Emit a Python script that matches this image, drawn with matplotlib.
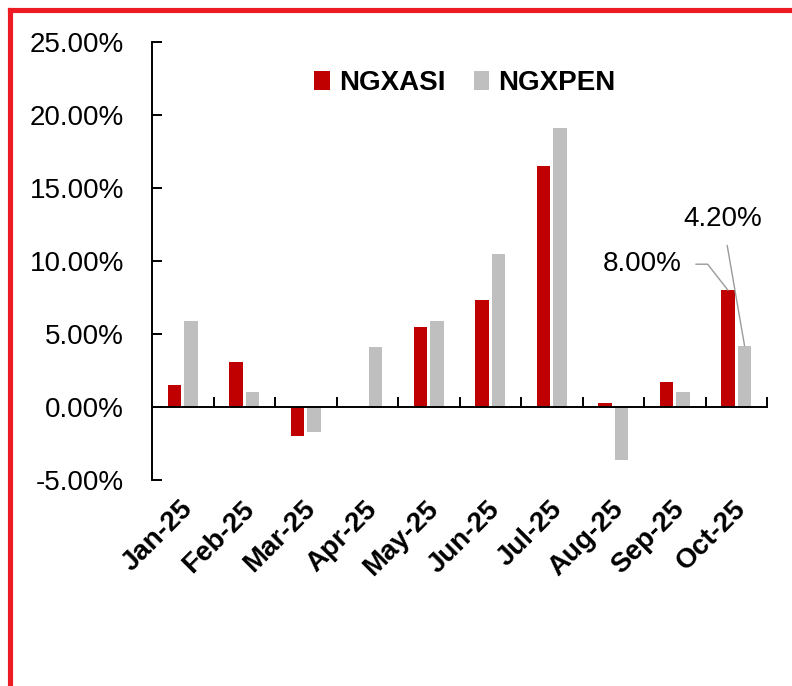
import matplotlib
matplotlib.use("Agg")
import matplotlib.pyplot as plt
from matplotlib.lines import Line2D
from matplotlib.ticker import FuncFormatter, FixedLocator
import numpy as np

months = ["Jan-25", "Feb-25", "Mar-25", "Apr-25", "May-25", "Jun-25",
          "Jul-25", "Aug-25", "Sep-25", "Oct-25"]
ngxasi = [1.5, 3.1, -2.0, 0.0, 5.5, 7.3, 16.5, 0.25, 1.7, 8.0]
ngxpen = [5.9, 1.0, -1.7, 4.1, 5.9, 10.5, 19.1, -3.6, 1.0, 4.2]
series_names = ["NGXASI", "NGXPEN"]
yticks = [-5, 0, 5, 10, 15, 20, 25]

RED = "#C00000"
GREY = "#BFBFBF"
FONT = "Liberation Sans"

fig = plt.figure(figsize=(7.92, 6.86), dpi=100)
ax = fig.add_axes([152/792, 1-480/686, (767-152)/792, (480-42)/686])

x = np.arange(len(months))
w = 0.22
off = 0.135
b1 = ax.bar(x - off, ngxasi, width=w, color=RED, label=series_names[0], zorder=2)
b2 = ax.bar(x + off, ngxpen, width=w, color=GREY, label=series_names[1], zorder=2)

ax.set_xlim(-0.5, len(months) - 0.5)
ax.set_ylim(yticks[0], yticks[-1])

for s in ["top", "right"]:
    ax.spines[s].set_visible(False)
ax.spines["bottom"].set_position(("data", 0))
ax.spines["left"].set_linewidth(1.4)
ax.spines["bottom"].set_linewidth(1.4)
ax.spines["bottom"].set_zorder(3)

ax.yaxis.set_major_locator(FixedLocator(yticks))
ax.yaxis.set_major_formatter(FuncFormatter(lambda v, p: f"{v:.2f}%"))
ax.tick_params(axis="y", direction="in", length=7, width=1.4, pad=20,
               labelsize=20)
for lab in ax.get_yticklabels():
    lab.set_fontfamily(FONT)

ax.xaxis.set_major_locator(FixedLocator(np.arange(len(months)) + 0.5))
ax.tick_params(axis="x", direction="in", length=7, width=1.4, labelbottom=False)

for i, m in enumerate(months):
    ax.annotate(m, xy=(i, yticks[0]), xytext=(-3, -16), textcoords="offset pixels",
                ha="right", va="top", rotation=45, rotation_mode="anchor",
                fontsize=20, fontweight="bold", fontfamily=FONT)

leg = fig.legend(handles=[b1, b2], labels=series_names, loc="center",
                 bbox_to_anchor=(465/792, 1-83/686), ncol=2, frameon=False,
                 handlelength=0.55, handleheight=0.65, handletextpad=0.35,
                 columnspacing=1.0, prop={"family": FONT, "weight": "bold", "size": 20})

# data labels for last month
i_last = len(months) - 1
ax.annotate(f"{ngxasi[i_last]:.2f}%", xy=(i_last - off, ngxasi[i_last]),
            xytext=(-46, 26), textcoords="offset pixels", ha="right", va="center",
            fontsize=20, fontfamily=FONT,
            arrowprops=dict(arrowstyle="-", color="#9A9A9A", lw=1.0,
                            connectionstyle="angle,angleA=0,angleB=128",
                            shrinkA=8, shrinkB=0))
ax.annotate(f"{ngxpen[i_last]:.2f}%", xy=(i_last + off, ngxpen[i_last]),
            xytext=(-22, 127), textcoords="offset pixels", ha="center", va="center",
            fontsize=20, fontfamily=FONT,
            arrowprops=dict(arrowstyle="-", color="#9A9A9A", lw=1.0,
                            shrinkA=8, shrinkB=0))

# red frame (left and top edges visible)
H = 686.0
Wd = 792.0
fig.add_artist(Line2D([9.5/Wd, 9.5/Wd], [0, 1-9.5/H], color="#ED1C24", lw=3.7,
                      transform=fig.transFigure, solid_capstyle="projecting"))
fig.add_artist(Line2D([9.5/Wd, 1.0], [1-9.5/H, 1-9.5/H], color="#ED1C24", lw=3.7,
                      transform=fig.transFigure, solid_capstyle="projecting"))

fig.savefig("out.png", dpi=100)
